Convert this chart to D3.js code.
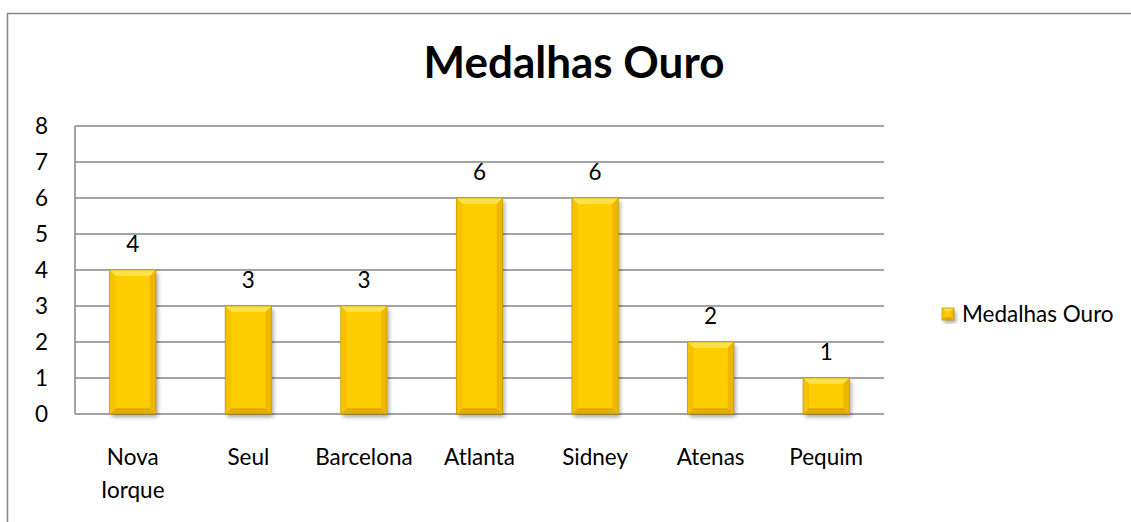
<!DOCTYPE html>
<html>
<head>
<meta charset="utf-8">
<script src="https://cdn.jsdelivr.net/npm/d3@7"></script>
<style>
  html, body { margin: 0; padding: 0; background: #fff; }
  svg text { font-family: Lato, "Open Sans", sans-serif; fill: #000; }
</style>
</head>
<body>
<div id="chart"></div>
<script>
// data
const categories = [['Nova', 'Iorque'], ['Seul'], ['Barcelona'], ['Atlanta'], ['Sidney'], ['Atenas'], ['Pequim']]
const values = [4, 3, 3, 6, 6, 2, 1]
const yTicks = [0, 1, 2, 3, 4, 5, 6, 7, 8]
const seriesName = 'Medalhas Ouro'
const title = 'Medalhas Ouro'

const width = 1131
const height = 522
const plot = { left: 75, right: 884, top: 126, bottom: 414 }

const svg = d3.select('#chart').append('svg')
    .attr('width', width)
    .attr('height', height)

const defs = svg.append('defs')
const shadow = defs.append('filter').attr('id', 'shadow')
    .attr('x', '-20%').attr('y', '-20%').attr('width', '150%').attr('height', '150%')
shadow.append('feGaussianBlur').attr('in', 'SourceAlpha').attr('stdDeviation', 2)
shadow.append('feOffset').attr('dx', 2).attr('dy', 3).attr('result', 'b')
shadow.append('feComponentTransfer').append('feFuncA').attr('type', 'linear').attr('slope', 0.35)
const merge = shadow.append('feMerge')
merge.append('feMergeNode')
merge.append('feMergeNode').attr('in', 'SourceGraphic')

// outer chart border
svg.append('rect')
    .attr('x', 7.5).attr('y', 13.5)
    .attr('width', width + 10).attr('height', height + 10)
    .attr('fill', 'none')
    .attr('stroke', '#868686')
    .attr('stroke-width', 1.5)

// title
svg.append('text')
    .attr('x', 574).attr('y', 78)
    .attr('text-anchor', 'middle')
    .style('font-size', '44px')
    .style('font-weight', 'bold')
    .text(title)

// scales
const x = d3.scaleBand()
    .domain(d3.range(categories.length))
    .range([plot.left, plot.right])
    .paddingInner(0.6)
    .paddingOuter(0.3)

const y = d3.scaleLinear()
    .domain([0, 8])
    .range([plot.bottom, plot.top])

// gridlines
svg.append('g')
    .selectAll('line')
    .data(yTicks)
    .join('line')
    .attr('x1', plot.left).attr('x2', plot.right)
    .attr('y1', d => y(d)).attr('y2', d => y(d))
    .attr('stroke', '#868686')
    .attr('stroke-width', 1.5)

svg.append('line')
    .attr('x1', plot.left).attr('x2', plot.left)
    .attr('y1', plot.top).attr('y2', plot.bottom)
    .attr('stroke', '#868686')
    .attr('stroke-width', 1.5)

// y axis labels
svg.append('g')
    .selectAll('text')
    .data(yTicks)
    .join('text')
    .attr('x', 48)
    .attr('y', d => y(d) + 8)
    .attr('text-anchor', 'end')
    .style('font-size', '22.5px')
    .text(d => d)

// bevelled bar
function bevel(g, x0, y0, w, h, b) {
    g.append('rect').attr('x', x0).attr('y', y0).attr('width', w).attr('height', h)
        .attr('fill', '#FFCC00').attr('filter', 'url(#shadow)')
    const x1 = x0 + w, y1 = y0 + h
    const pts = a => a.map(p => p.join(',')).join(' ')
    g.append('polygon').attr('points', pts([[x0, y0], [x1, y0], [x1 - b, y0 + b], [x0 + b, y0 + b]])).attr('fill', '#FFE24A')
    g.append('polygon').attr('points', pts([[x0, y1], [x1, y1], [x1 - b, y1 - b], [x0 + b, y1 - b]])).attr('fill', '#E3AC00')
    g.append('polygon').attr('points', pts([[x0, y0], [x0 + b, y0 + b], [x0 + b, y1 - b], [x0, y1]])).attr('fill', '#F7C300')
    g.append('polygon').attr('points', pts([[x1, y0], [x1 - b, y0 + b], [x1 - b, y1 - b], [x1, y1]])).attr('fill', '#EDB600')
    g.append('rect').attr('x', x0).attr('y', y0).attr('width', w).attr('height', h)
        .attr('fill', 'none').attr('stroke', '#C99A00').attr('stroke-width', 0.8)
}

const bars = svg.append('g')
values.forEach((v, i) => {
    const g = bars.append('g')
    bevel(g, x(i), y(v), x.bandwidth(), y(0) - y(v), 6)
})

// data labels
svg.append('g')
    .selectAll('text')
    .data(values)
    .join('text')
    .attr('x', (d, i) => x(i) + x.bandwidth() / 2)
    .attr('y', d => y(d) - 18)
    .attr('text-anchor', 'middle')
    .style('font-size', '22.5px')
    .text(d => d)

// category labels
const cat = svg.append('g')
    .selectAll('text')
    .data(categories)
    .join('text')
    .attr('text-anchor', 'middle')
    .style('font-size', '22.5px')
cat.each(function (lines, i) {
    const t = d3.select(this)
    lines.forEach((l, k) => {
        t.append('tspan')
            .attr('x', x(i) + x.bandwidth() / 2)
            .attr('y', 465 + k * 33)
            .text(l)
    })
})

// legend
const lg = svg.append('g')
bevel(lg, 942, 308, 12, 12, 3)
lg.append('text')
    .attr('x', 962).attr('y', 322)
    .style('font-size', '22.5px')
    .text(seriesName)
</script>
</body>
</html>
